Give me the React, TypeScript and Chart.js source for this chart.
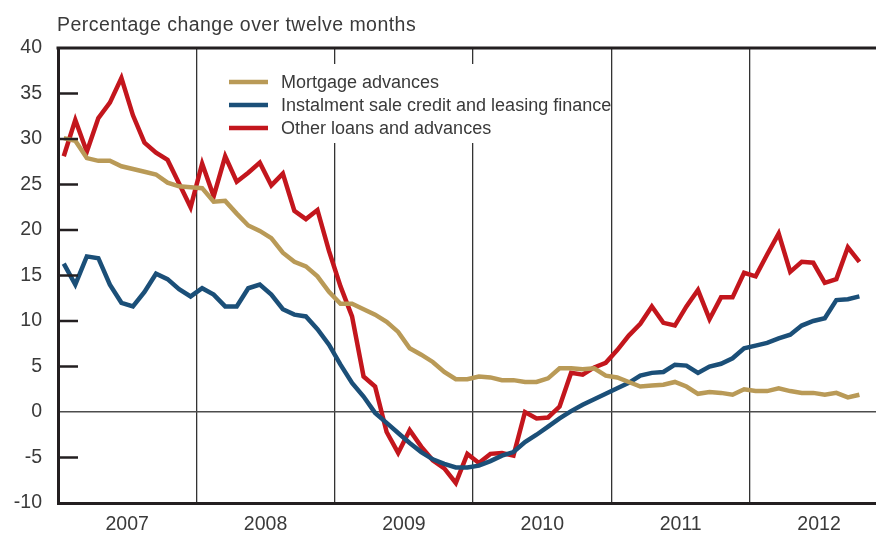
import { useEffect, useRef } from "react";
import { Chart, registerables } from "chart.js";

Chart.register(...registerables);

// ---- Data (monthly, Jan 2007 – Oct 2012) ----
const years = ["2007", "2008", "2009", "2010", "2011", "2012"];
const yTickValues = [-10, -5, 0, 5, 10, 15, 20, 25, 30, 35, 40];
const innerTickValues = [-5, 5, 10, 15, 20, 25, 30, 35];

const titleText = "Percentage change over twelve months";
const seriesNames = [
  "Mortgage advances",
  "Instalment sale credit and leasing finance",
  "Other loans and advances",
];

const mortgage = [
  30.1, 29.8, 27.9, 27.6, 27.6, 27.0, 26.7, 26.4, 26.1, 25.2, 24.8, 24.7,
  24.6, 23.1, 23.2, 21.8, 20.5, 19.9, 19.1, 17.5, 16.5, 16.0, 14.9, 13.2,
  11.9, 11.9, 11.3, 10.7, 9.9, 8.8, 7.0, 6.3, 5.5, 4.4, 3.6, 3.6,
  3.9, 3.8, 3.5, 3.5, 3.3, 3.3, 3.7, 4.8, 4.8, 4.7, 4.8, 4.0,
  3.8, 3.3, 2.8, 2.9, 3.0, 3.3, 2.8, 2.0, 2.2, 2.1, 1.9, 2.5,
  2.3, 2.3, 2.6, 2.3, 2.1, 2.1, 1.9, 2.1, 1.6, 1.9,
];

const instalment = [
  16.3, 14.0, 17.1, 16.9, 14.0, 12.0, 11.6, 13.2, 15.2, 14.6, 13.5, 12.7,
  13.6, 12.9, 11.6, 11.6, 13.6, 14.0, 12.9, 11.3, 10.7, 10.5, 9.1, 7.4,
  5.2, 3.2, 1.7, -0.1, -1.2, -2.3, -3.4, -4.4, -5.2, -5.7, -6.1, -6.1,
  -5.9, -5.4, -4.8, -4.4, -3.3, -2.5, -1.6, -0.7, 0.1, 0.8, 1.4, 2.0,
  2.6, 3.2, 4.0, 4.3, 4.4, 5.2, 5.1, 4.3, 5.0, 5.3, 5.9, 7.0,
  7.3, 7.6, 8.1, 8.5, 9.5, 10.0, 10.3, 12.3, 12.4, 12.7,
];

const otherLoans = [
  28.1, 32.1, 28.6, 32.3, 34.0, 36.7, 32.6, 29.6, 28.5, 27.7, 25.1, 22.5,
  27.3, 23.7, 28.1, 25.3, 26.3, 27.4, 24.9, 26.2, 22.1, 21.2, 22.2, 17.7,
  13.8, 10.5, 3.9, 2.8, -2.2, -4.5, -2.0, -3.8, -5.3, -6.2, -7.8, -4.6,
  -5.6, -4.6, -4.5, -4.8, 0.0, -0.7, -0.6, 0.6, 4.3, 4.1, 4.9, 5.4,
  6.8, 8.4, 9.7, 11.6, 9.8, 9.5, 11.6, 13.4, 10.2, 12.6, 12.6, 15.3,
  14.9, 17.3, 19.6, 15.4, 16.5, 16.4, 14.2, 14.6, 18.1, 16.5,
];

const seriesColors = ["#b99a57", "#1b4f78", "#c3161d"];

const FONT = '"Liberation Sans", Arial, Helvetica, sans-serif';
const TEXT = "#3a3a3a";
const AXIS = "#231f20";
const X_MAX = 70.94; // months shown (axis is cut shortly before end of 2012)

const toPoints = (arr: number[]) => arr.map((v, i) => ({ x: i + 0.5, y: v }));

const fitSpacing = (ctx: any, text: string, target: number) => {
  ctx.letterSpacing = "0px";
  const w = ctx.measureText(text).width;
  const sp = Math.max(0, (target - w) / text.length);
  ctx.letterSpacing = `${sp.toFixed(2)}px`;
};

const decorPlugin = {
  id: "decor",
  beforeDatasetsDraw(chart: any) {
    const { ctx, chartArea } = chart;
    ctx.save();
    // legend box (white background hides year dividers)
    ctx.fillStyle = "#ffffff";
    ctx.fillRect(222, 64, 387, 79);
    const rowsY = [82, 105, 128];
    ctx.font = `18px ${FONT}`;
    fitSpacing(ctx, seriesNames[1], 326);
    seriesNames.forEach((name, i) => {
      ctx.strokeStyle = seriesColors[i];
      ctx.lineWidth = 4.5;
      ctx.beginPath();
      ctx.moveTo(229, rowsY[i]);
      ctx.lineTo(268, rowsY[i]);
      ctx.stroke();
      ctx.fillStyle = TEXT;
      ctx.textBaseline = "middle";
      ctx.textAlign = "left";
      ctx.fillText(name, 281, rowsY[i] + 1);
    });
    // title
    ctx.fillStyle = TEXT;
    ctx.font = `19.5px ${FONT}`;
    fitSpacing(ctx, titleText, 359);
    ctx.textBaseline = "alphabetic";
    ctx.fillText(titleText, 57, 31);
    ctx.letterSpacing = "0px";
    // top border
    ctx.strokeStyle = AXIS;
    ctx.lineWidth = 3;
    ctx.beginPath();
    ctx.moveTo(chartArea.left - 1.5, chartArea.top);
    ctx.lineTo(chartArea.right, chartArea.top);
    ctx.stroke();
    ctx.restore();
  },
  afterDatasetsDraw(chart: any) {
    const { ctx, chartArea, scales } = chart;
    ctx.save();
    ctx.strokeStyle = AXIS;
    ctx.lineWidth = 2.5;
    innerTickValues.forEach((v) => {
      const y = scales.y.getPixelForValue(v);
      ctx.beginPath();
      ctx.moveTo(chartArea.left, y);
      ctx.lineTo(chartArea.left + 20, y);
      ctx.stroke();
    });
    ctx.restore();
  },
};

export default function App() {
  const ref = useRef<HTMLCanvasElement | null>(null);

  useEffect(() => {
    document.body.style.margin = "0";
    const canvas = ref.current;
    if (!canvas) return;
    const datasets = [mortgage, instalment, otherLoans].map((arr, i) => ({
      label: seriesNames[i],
      data: toPoints(arr),
      borderColor: seriesColors[i],
      backgroundColor: seriesColors[i],
      borderWidth: 4.5,
      pointRadius: 0,
      tension: 0,
      fill: false,
    }));
    const chart = new Chart(canvas, {
      type: "line",
      data: { datasets },
      plugins: [decorPlugin],
      options: {
        animation: false,
        responsive: false,
        devicePixelRatio: 1,
        layout: { padding: { top: 48, left: 0, right: 0, bottom: 0 } },
        plugins: { legend: { display: false }, tooltip: { enabled: false }, title: { display: false } },
        scales: {
          x: {
            type: "linear",
            min: 0,
            max: X_MAX,
            afterBuildTicks: (s: any) => {
              const t = [];
              for (let k = 1; k <= 11; k++) t.push({ value: k * 6 });
              s.ticks = t;
            },
            afterFit: (s: any) => {
              s.height = 31;
            },
            grid: {
              drawTicks: false,
              lineWidth: 1.3,
              color: (c: any) => (c.tick && c.tick.value % 12 === 0 ? "#333333" : "rgba(0,0,0,0)"),
            },
            border: { display: true, color: AXIS, width: 3 },
            ticks: {
              autoSkip: false,
              maxRotation: 0,
              padding: 10,
              color: TEXT,
              font: { size: 19.5, family: FONT },
              callback: (v: any) => (Number(v) % 12 === 6 ? years[(Number(v) - 6) / 12] : ""),
            },
          },
          y: {
            min: -10,
            max: 40,
            afterBuildTicks: (s: any) => {
              s.ticks = yTickValues.map((v) => ({ value: v }));
            },
            afterFit: (s: any) => {
              s.width = 58;
            },
            grid: {
              drawTicks: false,
              lineWidth: 1.5,
              color: (c: any) => (c.tick && c.tick.value === 0 ? "#4d4d4d" : "rgba(0,0,0,0)"),
            },
            border: { display: true, color: AXIS, width: 3 },
            ticks: {
              padding: 16,
              color: TEXT,
              font: { size: 19.5, family: FONT },
              callback: (v: any) => String(v),
            },
          },
        },
      },
    });
    return () => chart.destroy();
  }, []);

  return (
    <div style={{ width: 876, height: 534 }}>
      <canvas ref={ref} width={876} height={534} />
    </div>
  );
}
